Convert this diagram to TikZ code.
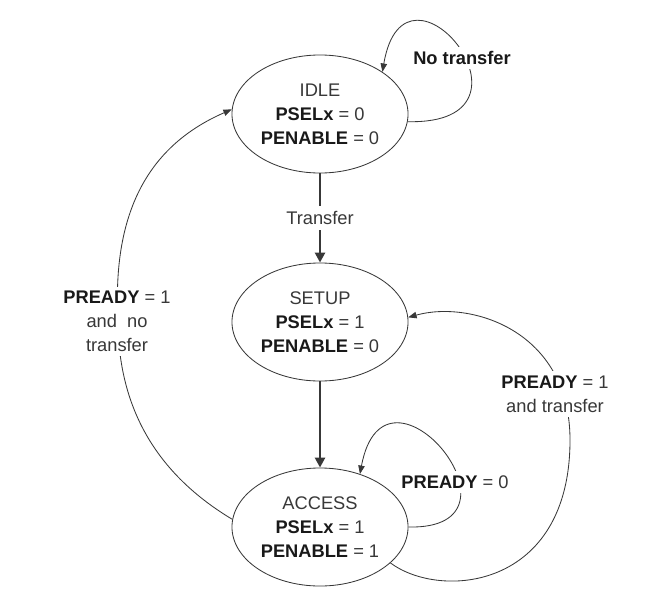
\documentclass[tikz,border=0pt]{standalone}
\usepackage{fontspec}
\setmainfont{Liberation Sans}
\usetikzlibrary{shapes.geometric,arrows.meta}

\definecolor{ink}{gray}{0.22}
\newcommand{\apbsig}[1]{\textcolor{black!90}{\textbf{#1}}}

\tikzset{
  state/.style={ellipse, draw=ink, line width=0.6pt, minimum width=4.4cm,
    minimum height=2.95cm, inner sep=0pt, align=center, text=ink},
  trans/.style={draw=ink, line width=0.6pt, -{Triangle[length=6pt,width=4.6pt]}},
  thicktrans/.style={draw=ink, line width=1.8pt, -{Triangle[length=7pt,width=7pt]}},
  cond/.style={fill=white, inner sep=3pt, align=center, text=ink},
}

\begin{document}
\begin{tikzpicture}[x=0.025cm, y=-0.025cm, font=\fontsize{13}{17}\selectfont]
  \useasboundingbox (0,0) rectangle (661,611);

  \node[state] (idle) at (320,114) {IDLE\\\apbsig{PSELx} = 0\\\apbsig{PENABLE} = 0};
  \node[state] (setup) at (320,322) {SETUP\\\apbsig{PSELx} = 1\\\apbsig{PENABLE} = 0};
  \node[state] (access) at (320,527) {ACCESS\\\apbsig{PSELx} = 1\\\apbsig{PENABLE} = 1};

  \draw[thicktrans] (idle) -- (setup) node[cond, midway, inner ysep=4pt] (xfer) {Transfer};
  \draw[thicktrans] (setup) -- (access);

  % loops
  \draw[trans] (idle.-5) .. controls (555,125) and (405,-62) .. (idle.34);
  \node[cond] (notx) at (462,58) {\apbsig{No transfer}};

  \draw[trans] (access.east) .. controls (540,530) and (385,340) .. (access.53);
  \node[cond] (wait) at (455,482) {\apbsig{PREADY} = 0};

  % back to setup / idle
  \draw[trans] (access.-27) .. controls (440,600) and (570,590) .. (570,440)
    .. controls (570,330) and (470,300) .. (setup.3);
  \node[cond] (again) at (555,394) {\apbsig{PREADY} = 1\\and transfer};

  \draw[trans] (access.175) .. controls (150,470) and (118,400) .. (118,320)
    .. controls (112,210) and (150,145) .. (idle.177);
  \node[cond] (done) at (117,321) {\apbsig{PREADY} = 1\\and \ no\\transfer};
\end{tikzpicture}
\end{document}
